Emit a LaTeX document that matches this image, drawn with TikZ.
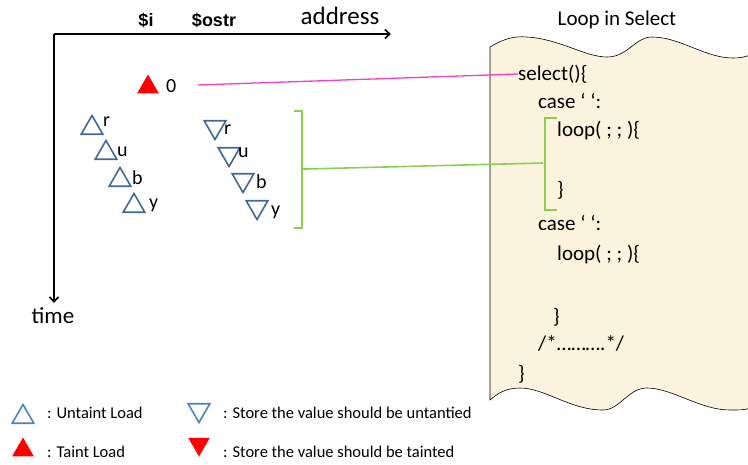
\documentclass[tikz,border=0pt]{standalone}
\usepackage{fontspec}
\setmainfont{Carlito}
\newfontfamily\headfont{Liberation Sans}
\usetikzlibrary{shapes.geometric,arrows.meta}
\definecolor{loadblue}{HTML}{3F6797}
\definecolor{legblue}{HTML}{4F81BD}
\definecolor{paper}{HTML}{FBF3DD}
\definecolor{linkpink}{HTML}{F23DC8}
\definecolor{linkgreen}{HTML}{8CCF4F}
\begin{document}
\begin{tikzpicture}[x=1pt,y=-1pt,
    tri/.style={regular polygon,regular polygon sides=3,minimum size=25pt,inner sep=0pt,line width=1.6pt},
    uptri/.style={tri,draw=loadblue},
    downtri/.style={tri,draw=loadblue,shape border rotate=180},
    lbl/.style={anchor=west,inner sep=0pt,font=\fontsize{20}{22}\selectfont},
    code/.style={anchor=west,inner sep=0pt,font=\fontsize{21}{23}\selectfont},
    legend/.style={anchor=west,inner sep=0pt,font=\fontsize{16.5}{18}\selectfont}]
    \useasboundingbox (0,0) rectangle (748,464);

    %%draw the paper
    \draw[fill=paper,line width=0.6pt] (490,47)
        .. controls (505,38) and (515,36) .. (527,37)
        .. controls (560,39) and (585,57) .. (607,57)
        .. controls (628,57) and (635,37) .. (652,37)
        .. controls (680,37) and (705,58) .. (733,58)
        .. controls (740,58) and (745,57) .. (750,55)
        -- (750,408)
        .. controls (745,410) and (740,410) .. (730,410)
        .. controls (700,410) and (672,388) .. (647,388)
        .. controls (628,388) and (620,410) .. (603,410)
        .. controls (570,410) and (545,388) .. (520,388)
        .. controls (505,388) and (497,394) .. (490,400) -- cycle;
    \node (title) at (617,20) {\fontsize{21}{23}\selectfont Loop in Select};

    %%draw the code
    \node[code] (select) at (518,74) {select()\{};
    \node[code] (case1) at (538,101) {case ‘ ‘:};
    \node[code] (loop1) at (557,131) {loop( ; ; )\{};
    \node[code] (close1) at (557,190) {\}};
    \node[code] (case2) at (538,223) {case ‘ ‘:};
    \node[code] (loop2) at (557,255) {loop( ; ; )\{};
    \node[code] (close2) at (553,317) {\}};
    \node[code] (comment) at (538,343) {/*……….*/};
    \node[code] (close3) at (518,374) {\}};

    %%draw the axes
    \coordinate (origin) at (54,34);
    \coordinate (xend) at (391,34);
    \coordinate (yend) at (54,303);
    \draw[line width=1.6pt,-{Straight Barb[length=5pt,width=9pt]}] (origin) -- (xend);
    \draw[line width=1.6pt,-{Straight Barb[length=5pt,width=9pt]}] (origin) -- (yend);
    \node (address) at (340,16) {\fontsize{25}{27}\selectfont address};
    \node (time) at (53,316) {\fontsize{23}{25}\selectfont time};
    \node (vari) at (146,20) {\headfont\bfseries\fontsize{18}{20}\selectfont \$i};
    \node (varostr) at (214,20) {\headfont\bfseries\fontsize{18}{20}\selectfont \$ostr};

    %%draw the loads
    \node[tri,fill=red] (taint) at (148,87) {};
    \node[lbl] (zero) at (166,86) {0};
    \node[uptri] (ir) at (92,128) {};
    \node[lbl] at (103,122) {r};
    \node[uptri] (iu) at (106,153) {};
    \node[lbl] at (117,152) {u};
    \node[uptri] (ib) at (120,180) {};
    \node[lbl] at (132,178) {b};
    \node[uptri] (iy) at (134,206) {};
    \node[lbl] at (149,205) {y};

    %%draw the stores
    \node[downtri] (or) at (215,127) {};
    \node[lbl] at (224,130) {r};
    \node[downtri] (ou) at (229,154) {};
    \node[lbl] at (238,153) {u};
    \node[downtri] (ob) at (243,180) {};
    \node[lbl] at (256,182) {b};
    \node[downtri] (oy) at (257,207) {};
    \node[lbl] at (271,212) {y};

    %%draw the links
    \coordinate (zeroend) at (198,85);
    \draw[linkpink,line width=1.3pt] (zeroend) -- (select.west);
    \coordinate (leftmid) at (306,169);
    \coordinate (rightmid) at (543,163);
    \draw[linkgreen,line width=1.6pt] (294,111) -- (302,111) -- (302,228) -- (294,228);
    \draw[linkgreen,line width=1.6pt] (302,169) -- (leftmid);
    \draw[linkgreen,line width=1.6pt] (557,118) -- (545,118) -- (545,210) -- (557,210);
    \draw[linkgreen,line width=1.6pt] (leftmid) -- (rightmid);

    %%draw the legend
    \node[tri,draw=legblue] (legup) at (23,417) {};
    \node[legend] at (47,413) {: Untaint Load};
    \node[tri,fill=red] (legtaint) at (23,450) {};
    \node[legend] at (47,452) {: Taint Load};
    \node[tri,draw=legblue,shape border rotate=180] (legdown) at (199,410) {};
    \node[legend] at (223,413) {: Store the value should be untantied};
    \node[tri,fill=red,shape border rotate=180] (legstore) at (199,444) {};
    \node[legend] at (223,452) {: Store the value should be tainted};
\end{tikzpicture}
\end{document}
